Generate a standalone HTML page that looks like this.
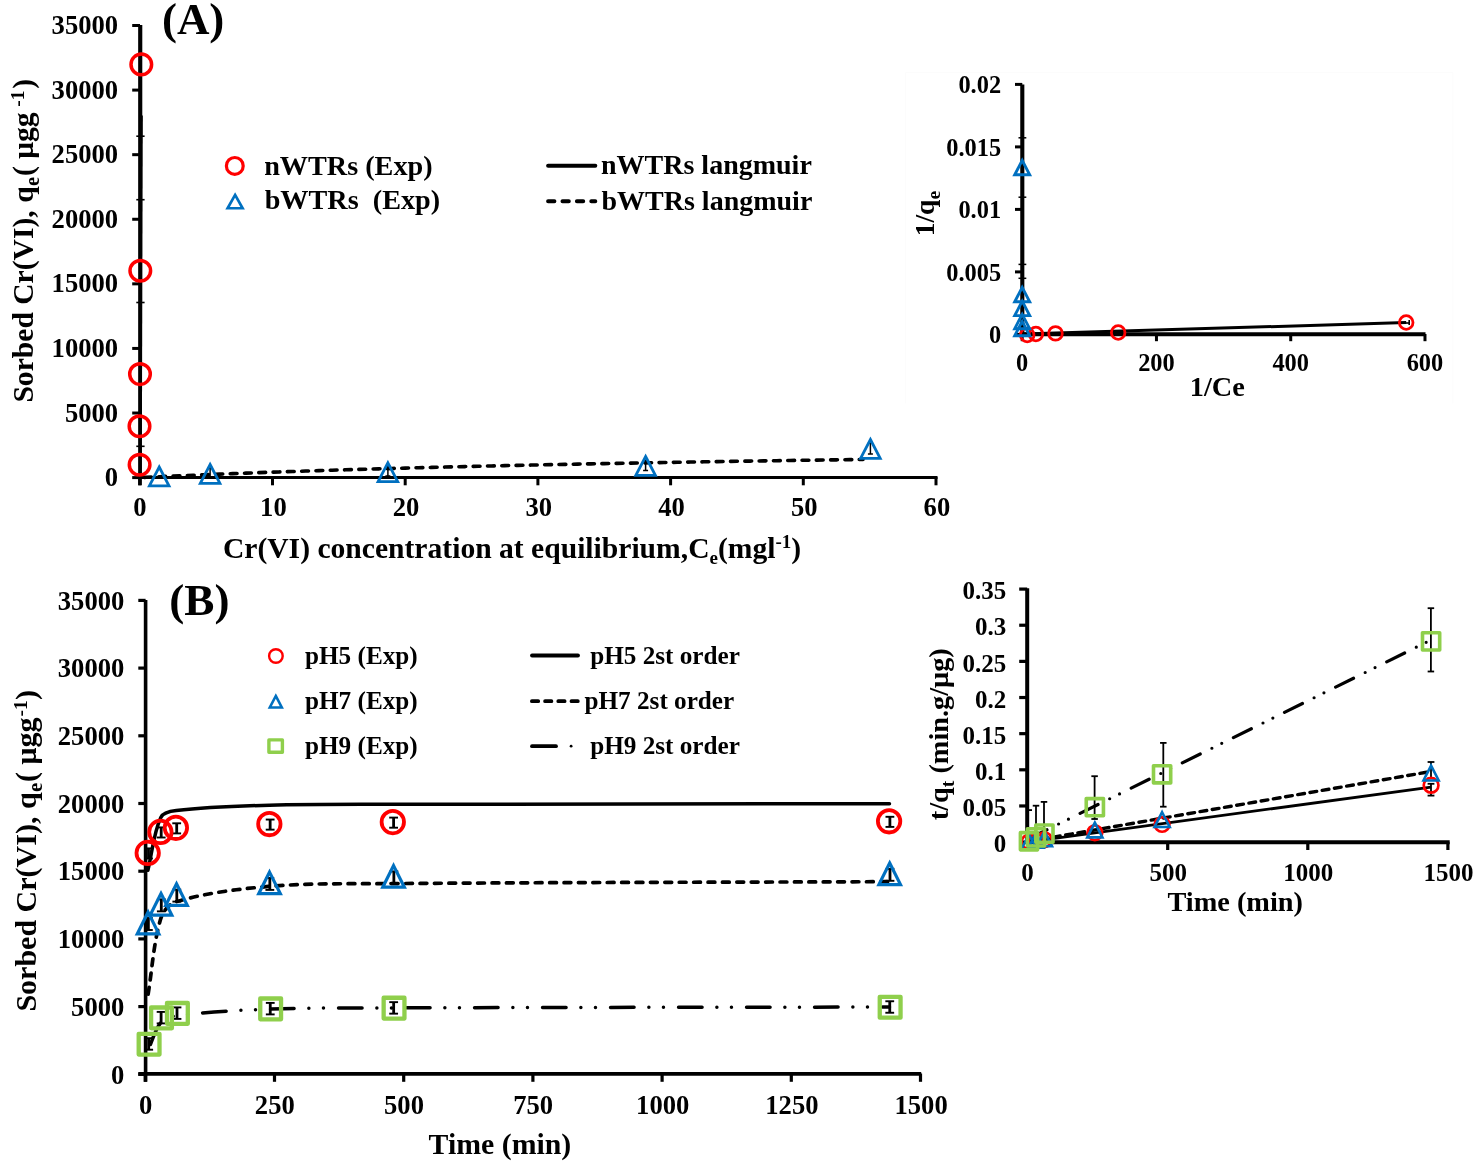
<!DOCTYPE html>
<html><head><meta charset="utf-8"><style>
html,body{margin:0;padding:0;background:#fff;}
svg{display:block;will-change:transform;}
text{font-family:"Liberation Serif", serif;font-weight:bold;fill:#000;}
</style></head><body>
<svg width="1484" height="1164" viewBox="0 0 1484 1164">
<rect width="1484" height="1164" fill="#fff"/>
<line x1="132.2" y1="477.6" x2="140" y2="477.6" stroke="#000" stroke-width="3" />
<text x="118.1" y="486.1" font-size="26.6" text-anchor="end" >0</text>
<line x1="132.2" y1="413.02" x2="140" y2="413.02" stroke="#000" stroke-width="3" />
<text x="118.1" y="421.52" font-size="26.6" text-anchor="end" >5000</text>
<line x1="132.2" y1="348.43" x2="140" y2="348.43" stroke="#000" stroke-width="3" />
<text x="118.1" y="356.93" font-size="26.6" text-anchor="end" >10000</text>
<line x1="132.2" y1="283.85" x2="140" y2="283.85" stroke="#000" stroke-width="3" />
<text x="118.1" y="292.35" font-size="26.6" text-anchor="end" >15000</text>
<line x1="132.2" y1="219.26" x2="140" y2="219.26" stroke="#000" stroke-width="3" />
<text x="118.1" y="227.76" font-size="26.6" text-anchor="end" >20000</text>
<line x1="132.2" y1="154.68" x2="140" y2="154.68" stroke="#000" stroke-width="3" />
<text x="118.1" y="163.18" font-size="26.6" text-anchor="end" >25000</text>
<line x1="132.2" y1="90.09" x2="140" y2="90.09" stroke="#000" stroke-width="3" />
<text x="118.1" y="98.59" font-size="26.6" text-anchor="end" >30000</text>
<line x1="132.2" y1="25.51" x2="140" y2="25.51" stroke="#000" stroke-width="3" />
<text x="118.1" y="34.01" font-size="26.6" text-anchor="end" >35000</text>
<line x1="139.8" y1="477" x2="139.8" y2="485.3" stroke="#000" stroke-width="3" />
<text x="139.8" y="515.8" font-size="26.6" text-anchor="middle" >0</text>
<line x1="272.5" y1="477" x2="272.5" y2="485.3" stroke="#000" stroke-width="3" />
<text x="273.4" y="515.8" font-size="26.6" text-anchor="middle" >10</text>
<line x1="405.2" y1="477" x2="405.2" y2="485.3" stroke="#000" stroke-width="3" />
<text x="406.1" y="515.8" font-size="26.6" text-anchor="middle" >20</text>
<line x1="537.9" y1="477" x2="537.9" y2="485.3" stroke="#000" stroke-width="3" />
<text x="538.8" y="515.8" font-size="26.6" text-anchor="middle" >30</text>
<line x1="670.6" y1="477" x2="670.6" y2="485.3" stroke="#000" stroke-width="3" />
<text x="671.5" y="515.8" font-size="26.6" text-anchor="middle" >40</text>
<line x1="803.3" y1="477" x2="803.3" y2="485.3" stroke="#000" stroke-width="3" />
<text x="804.2" y="515.8" font-size="26.6" text-anchor="middle" >50</text>
<line x1="936" y1="477" x2="936" y2="485.3" stroke="#000" stroke-width="3" />
<text x="936.9" y="515.8" font-size="26.6" text-anchor="middle" >60</text>
<line x1="140" y1="25" x2="140" y2="485.3" stroke="#000" stroke-width="3.7" />
<line x1="138.3" y1="477.6" x2="937.5" y2="477.6" stroke="#000" stroke-width="3" />
<line x1="141.2" y1="25" x2="141.2" y2="136.2" stroke="#000" stroke-width="2.2" />
<line x1="141.3" y1="115.5" x2="140.3" y2="477" stroke="#000" stroke-width="3" />
<path d="M139.8 477.6 L146.44 477.29 L153.07 476.98 L159.71 476.68 L166.34 476.38 L172.98 476.08 L179.61 475.8 L186.25 475.51 L192.88 475.23 L199.52 474.96 L206.15 474.68 L212.79 474.42 L219.42 474.15 L226.06 473.89 L232.69 473.64 L239.32 473.39 L245.96 473.14 L252.6 472.89 L259.23 472.65 L265.87 472.41 L272.5 472.18 L279.13 471.95 L285.77 471.72 L292.4 471.5 L299.04 471.28 L305.68 471.06 L312.31 470.84 L318.94 470.63 L325.58 470.42 L332.22 470.21 L338.85 470.01 L345.49 469.81 L352.12 469.61 L358.75 469.41 L365.39 469.22 L372.02 469.03 L378.66 468.84 L385.3 468.65 L391.93 468.47 L398.56 468.28 L405.2 468.1 L411.83 467.93 L418.47 467.75 L425.11 467.58 L431.74 467.41 L438.38 467.24 L445.01 467.07 L451.64 466.91 L458.28 466.74 L464.92 466.58 L471.55 466.42 L478.19 466.26 L484.82 466.11 L491.45 465.96 L498.09 465.8 L504.73 465.65 L511.36 465.5 L518 465.36 L524.63 465.21 L531.26 465.07 L537.9 464.93 L544.54 464.79 L551.17 464.65 L557.81 464.51 L564.44 464.37 L571.08 464.24 L577.71 464.1 L584.35 463.97 L590.98 463.84 L597.62 463.71 L604.25 463.59 L610.88 463.46 L617.52 463.33 L624.15 463.21 L630.79 463.09 L637.42 462.97 L644.06 462.85 L650.69 462.73 L657.33 462.61 L663.96 462.49 L670.6 462.38 L677.23 462.27 L683.87 462.15 L690.5 462.04 L697.14 461.93 L703.78 461.82 L710.41 461.71 L717.05 461.6 L723.68 461.5 L730.32 461.39 L736.95 461.29 L743.59 461.18 L750.22 461.08 L756.86 460.98 L763.49 460.88 L770.12 460.78 L776.76 460.68 L783.39 460.58 L790.03 460.48 L796.66 460.39 L803.3 460.29 L809.93 460.2 L816.57 460.1 L823.2 460.01 L829.84 459.92 L836.47 459.83 L843.11 459.74 L849.74 459.65 L856.38 459.56 L863.02 459.47" fill="none" stroke="#000" stroke-width="3.6" stroke-dasharray="6.8 7.5" stroke-dashoffset="-4.7" stroke-linecap="round"/>
<line x1="645.6" y1="460.5" x2="645.6" y2="470.5" stroke="#000" stroke-width="1.5" />
<line x1="643.1" y1="460.5" x2="648.1" y2="460.5" stroke="#000" stroke-width="1.5" />
<line x1="643.1" y1="470.5" x2="648.1" y2="470.5" stroke="#000" stroke-width="1.5" />
<line x1="870.4" y1="443" x2="870.4" y2="454" stroke="#000" stroke-width="1.5" />
<line x1="867.9" y1="443" x2="872.9" y2="443" stroke="#000" stroke-width="1.5" />
<line x1="867.9" y1="454" x2="872.9" y2="454" stroke="#000" stroke-width="1.5" />
<line x1="387.9" y1="466" x2="387.9" y2="476" stroke="#000" stroke-width="1.5" />
<line x1="385.4" y1="466" x2="390.4" y2="466" stroke="#000" stroke-width="1.5" />
<line x1="385.4" y1="476" x2="390.4" y2="476" stroke="#000" stroke-width="1.5" />
<line x1="210.1" y1="468" x2="210.1" y2="478" stroke="#000" stroke-width="1.5" />
<line x1="207.6" y1="468" x2="212.6" y2="468" stroke="#000" stroke-width="1.5" />
<line x1="207.6" y1="478" x2="212.6" y2="478" stroke="#000" stroke-width="1.5" />
<line x1="136.3" y1="136.2" x2="144.6" y2="136.2" stroke="#000" stroke-width="1.6" />
<line x1="136.3" y1="199.7" x2="144.6" y2="199.7" stroke="#000" stroke-width="1.6" />
<line x1="136.3" y1="302.5" x2="144.6" y2="302.5" stroke="#000" stroke-width="1.6" />
<line x1="136.3" y1="446.3" x2="144.6" y2="446.3" stroke="#000" stroke-width="1.6" />
<circle cx="141.3" cy="64.4" r="10.3" fill="none" stroke="#ff0000" stroke-width="3.5"/>
<circle cx="140.3" cy="270.7" r="10.3" fill="none" stroke="#ff0000" stroke-width="3.5"/>
<circle cx="140" cy="374.1" r="10.3" fill="none" stroke="#ff0000" stroke-width="3.5"/>
<circle cx="139.5" cy="426.3" r="10.3" fill="none" stroke="#ff0000" stroke-width="3.5"/>
<circle cx="139.6" cy="464.7" r="10.3" fill="none" stroke="#ff0000" stroke-width="3.5"/>
<path d="M159.2 467 L169 485.8 L149.4 485.8 Z" fill="none" stroke="#0070c0" stroke-width="2.8" stroke-linejoin="miter"/>
<path d="M210.1 464.5 L219.9 483.3 L200.3 483.3 Z" fill="none" stroke="#0070c0" stroke-width="2.8" stroke-linejoin="miter"/>
<path d="M387.9 462.8 L397.7 481.6 L378.1 481.6 Z" fill="none" stroke="#0070c0" stroke-width="2.8" stroke-linejoin="miter"/>
<path d="M645.6 456.5 L655.4 475.3 L635.8 475.3 Z" fill="none" stroke="#0070c0" stroke-width="2.8" stroke-linejoin="miter"/>
<path d="M870.4 439.5 L880.2 458.3 L860.6 458.3 Z" fill="none" stroke="#0070c0" stroke-width="2.8" stroke-linejoin="miter"/>
<circle cx="234.8" cy="165.9" r="8.4" fill="none" stroke="#ff0000" stroke-width="3.2"/>
<path d="M235.1 194.95 L242.6 208.25 L227.6 208.25 Z" fill="none" stroke="#0070c0" stroke-width="2.7" stroke-linejoin="miter"/>
<text x="264.2" y="174.5" font-size="28.2" text-anchor="start" >nWTRs (Exp)</text>
<text x="264.7" y="209.4" font-size="28.2" text-anchor="start" >bWTRs&#160; (Exp)</text>
<line x1="548.1" y1="165.7" x2="595.3" y2="165.7" stroke="#000" stroke-width="4" stroke-linecap="round"/>
<line x1="548.1" y1="201.3" x2="595.3" y2="201.3" stroke="#000" stroke-width="4" stroke-dasharray="6.3 8.1" stroke-linecap="round"/>
<text x="601" y="173.8" font-size="28" text-anchor="start" >nWTRs langmuir</text>
<text x="601.5" y="209.7" font-size="28" text-anchor="start" >bWTRs langmuir</text>
<text x="161.9" y="34.3" font-size="45" text-anchor="start" >(A)</text>
<text x="222.9" y="557.7" font-size="29.6" text-anchor="start" >Cr(VI) concentration at equilibrium,C<tspan font-size="19" dy="6">e</tspan><tspan dy="-6">(mgl</tspan><tspan font-size="19" dy="-10">-1</tspan><tspan dy="10">)</tspan></text>
<text transform="translate(33.4,402.6) rotate(-90)" font-size="29.6">Sorbed Cr(VI), q<tspan font-size="20.5" dy="6" dx="0.5">e</tspan><tspan dy="-6" dx="0.8">( μgg</tspan><tspan font-size="19.5" dy="-9" dx="0.8"> -1</tspan><tspan dy="9" dx="1.8">)</tspan></text>
<line x1="1015" y1="334.4" x2="1022.3" y2="334.4" stroke="#000" stroke-width="3" />
<text x="1001.1" y="343.1" font-size="24.4" text-anchor="end" >0</text>
<line x1="1015" y1="271.9" x2="1022.3" y2="271.9" stroke="#000" stroke-width="3" />
<text x="1001.1" y="280.6" font-size="24.4" text-anchor="end" >0.005</text>
<line x1="1015" y1="209.4" x2="1022.3" y2="209.4" stroke="#000" stroke-width="3" />
<text x="1001.1" y="218.1" font-size="24.4" text-anchor="end" >0.01</text>
<line x1="1015" y1="146.9" x2="1022.3" y2="146.9" stroke="#000" stroke-width="3" />
<text x="1001.1" y="155.6" font-size="24.4" text-anchor="end" >0.015</text>
<line x1="1015" y1="84.4" x2="1022.3" y2="84.4" stroke="#000" stroke-width="3" />
<text x="1001.1" y="93.1" font-size="24.4" text-anchor="end" >0.02</text>
<line x1="1022.2" y1="334" x2="1022.2" y2="341.2" stroke="#000" stroke-width="3" />
<text x="1022.2" y="370.8" font-size="24.4" text-anchor="middle" >0</text>
<line x1="1156.46" y1="334" x2="1156.46" y2="341.2" stroke="#000" stroke-width="3" />
<text x="1156.46" y="370.8" font-size="24.4" text-anchor="middle" >200</text>
<line x1="1290.72" y1="334" x2="1290.72" y2="341.2" stroke="#000" stroke-width="3" />
<text x="1290.72" y="370.8" font-size="24.4" text-anchor="middle" >400</text>
<line x1="1424.98" y1="334" x2="1424.98" y2="341.2" stroke="#000" stroke-width="3" />
<text x="1424.98" y="370.8" font-size="24.4" text-anchor="middle" >600</text>
<line x1="1022.3" y1="84.5" x2="1022.3" y2="336" stroke="#000" stroke-width="4.1" />
<line x1="1020.5" y1="334.3" x2="1425.5" y2="334.3" stroke="#000" stroke-width="4.1" />
<line x1="1022.2" y1="334" x2="1406.2" y2="322.6" stroke="#000" stroke-width="3" />
<text x="1189.8" y="395.6" font-size="28.3" text-anchor="start" >1/Ce</text>
<text transform="translate(933.8,236.3) rotate(-90)" font-size="27.5">1/q<tspan font-size="19.5" dy="6">e</tspan></text>
<line x1="1403.5" y1="323" x2="1409.2" y2="323" stroke="#000" stroke-width="1.6" />
<line x1="1050.5" y1="333.4" x2="1060.5" y2="333.4" stroke="#000" stroke-width="2.2" />
<line x1="1113.2" y1="332.5" x2="1123.2" y2="332.5" stroke="#000" stroke-width="2.6" />
<line x1="1409.2" y1="320" x2="1409.2" y2="325" stroke="#000" stroke-width="1.6" />
<line x1="1018.5" y1="137.8" x2="1026.3" y2="137.8" stroke="#000" stroke-width="1.5" />
<line x1="1018.5" y1="197.2" x2="1026.3" y2="197.2" stroke="#000" stroke-width="1.5" />
<line x1="1018.5" y1="264.4" x2="1026.3" y2="264.4" stroke="#000" stroke-width="1.5" />
<line x1="1018.5" y1="278.3" x2="1026.3" y2="278.3" stroke="#000" stroke-width="1.5" />
<circle cx="1027.2" cy="335" r="6.8" fill="none" stroke="#ff0000" stroke-width="2.8"/>
<circle cx="1035.9" cy="334" r="6.8" fill="none" stroke="#ff0000" stroke-width="2.8"/>
<circle cx="1055.5" cy="333.4" r="6.8" fill="none" stroke="#ff0000" stroke-width="2.8"/>
<circle cx="1118.2" cy="332.5" r="6.8" fill="none" stroke="#ff0000" stroke-width="2.8"/>
<circle cx="1406.2" cy="322.5" r="6.8" fill="none" stroke="#ff0000" stroke-width="2.8"/>
<path d="M1022.2 160.4 L1029.7 174.8 L1014.7 174.8 Z" fill="none" stroke="#0070c0" stroke-width="2.9" stroke-linejoin="miter"/>
<path d="M1022.2 287.4 L1029.7 301.8 L1014.7 301.8 Z" fill="none" stroke="#0070c0" stroke-width="2.9" stroke-linejoin="miter"/>
<path d="M1022.2 301.2 L1029.7 315.6 L1014.7 315.6 Z" fill="none" stroke="#0070c0" stroke-width="2.9" stroke-linejoin="miter"/>
<path d="M1022.2 314.3 L1029.7 328.7 L1014.7 328.7 Z" fill="none" stroke="#0070c0" stroke-width="2.9" stroke-linejoin="miter"/>
<path d="M1022.2 321.3 L1029.7 335.7 L1014.7 335.7 Z" fill="none" stroke="#0070c0" stroke-width="2.9" stroke-linejoin="miter"/>
<line x1="138.3" y1="1074.3" x2="145.6" y2="1074.3" stroke="#000" stroke-width="3.2" />
<text x="124.3" y="1083.5" font-size="26.6" text-anchor="end" >0</text>
<line x1="138.3" y1="1006.6" x2="145.6" y2="1006.6" stroke="#000" stroke-width="3.2" />
<text x="124.3" y="1015.8" font-size="26.6" text-anchor="end" >5000</text>
<line x1="138.3" y1="938.9" x2="145.6" y2="938.9" stroke="#000" stroke-width="3.2" />
<text x="124.3" y="948.1" font-size="26.6" text-anchor="end" >10000</text>
<line x1="138.3" y1="871.2" x2="145.6" y2="871.2" stroke="#000" stroke-width="3.2" />
<text x="124.3" y="880.4" font-size="26.6" text-anchor="end" >15000</text>
<line x1="138.3" y1="803.5" x2="145.6" y2="803.5" stroke="#000" stroke-width="3.2" />
<text x="124.3" y="812.7" font-size="26.6" text-anchor="end" >20000</text>
<line x1="138.3" y1="735.8" x2="145.6" y2="735.8" stroke="#000" stroke-width="3.2" />
<text x="124.3" y="745" font-size="26.6" text-anchor="end" >25000</text>
<line x1="138.3" y1="668.1" x2="145.6" y2="668.1" stroke="#000" stroke-width="3.2" />
<text x="124.3" y="677.3" font-size="26.6" text-anchor="end" >30000</text>
<line x1="138.3" y1="600.4" x2="145.6" y2="600.4" stroke="#000" stroke-width="3.2" />
<text x="124.3" y="609.6" font-size="26.6" text-anchor="end" >35000</text>
<line x1="145.3" y1="1073.5" x2="145.3" y2="1081.8" stroke="#000" stroke-width="3.2" />
<text x="145.6" y="1114" font-size="26.6" text-anchor="middle" >0</text>
<line x1="274.5" y1="1073.5" x2="274.5" y2="1081.8" stroke="#000" stroke-width="3.2" />
<text x="274.8" y="1114" font-size="26.6" text-anchor="middle" >250</text>
<line x1="403.7" y1="1073.5" x2="403.7" y2="1081.8" stroke="#000" stroke-width="3.2" />
<text x="404" y="1114" font-size="26.6" text-anchor="middle" >500</text>
<line x1="532.9" y1="1073.5" x2="532.9" y2="1081.8" stroke="#000" stroke-width="3.2" />
<text x="533.2" y="1114" font-size="26.6" text-anchor="middle" >750</text>
<line x1="662.1" y1="1073.5" x2="662.1" y2="1081.8" stroke="#000" stroke-width="3.2" />
<text x="662.7" y="1114" font-size="26.6" text-anchor="middle" >1000</text>
<line x1="791.3" y1="1073.5" x2="791.3" y2="1081.8" stroke="#000" stroke-width="3.2" />
<text x="791.9" y="1114" font-size="26.6" text-anchor="middle" >1250</text>
<line x1="920.5" y1="1073.5" x2="920.5" y2="1081.8" stroke="#000" stroke-width="3.2" />
<text x="921.1" y="1114" font-size="26.6" text-anchor="middle" >1500</text>
<line x1="145.6" y1="600" x2="145.6" y2="1081.8" stroke="#000" stroke-width="3.6" />
<line x1="138.3" y1="1073.9" x2="921.2" y2="1073.9" stroke="#000" stroke-width="3.6" />
<path d="M147.88 870.31 C152.19 852.68 153.58 832.6 160.8 817.42 C163.05 812.69 170.74 811.2 176.31 810.58 C206.92 807.13 238.29 806.1 269.33 805.2 C310.65 804.01 352.02 804.39 393.36 804.29 C558.74 803.88 724.12 803.88 889.49 803.67" fill="none" stroke="#000" stroke-width="3.5" stroke-linecap="round"/>
<path d="M147.88 995.48 C152.19 969.82 153.48 942.69 160.8 918.5 C162.95 911.4 169.24 903.73 176.31 901.64 C205.41 893.02 238.09 888.98 269.33 886.38 C310.45 882.96 352.01 883.89 393.36 883.57 C558.73 882.31 724.12 882.29 889.49 881.65" fill="none" stroke="#000" stroke-width="3.7" stroke-dasharray="6.8 7.6" stroke-dashoffset="-1.4" stroke-linecap="round"/>
<path d="M147.88 1050.7 C152.19 1041.36 154.69 1030.2 160.8 1022.68 C164.17 1018.54 170.73 1016.42 176.31 1015.72 C206.91 1011.91 238.28 1010.26 269.33 1009.14 C310.63 1007.65 352.02 1008.03 393.36 1007.89 C558.74 1007.33 724.12 1007.32 889.49 1007.04" fill="none" stroke="#000" stroke-width="3.5" stroke-dasharray="23.5 14.8 0 14.6 0 15.1" stroke-dashoffset="-6.8" stroke-linecap="round"/>
<line x1="148.5" y1="848.4" x2="148.5" y2="858.5" stroke="#000" stroke-width="2.8" />
<line x1="144.1" y1="848.4" x2="152.9" y2="848.4" stroke="#000" stroke-width="1.9" />
<line x1="144.1" y1="858.5" x2="152.9" y2="858.5" stroke="#000" stroke-width="1.9" />
<line x1="161.2" y1="827.4" x2="161.2" y2="837.5" stroke="#000" stroke-width="2.8" />
<line x1="156.8" y1="827.4" x2="165.6" y2="827.4" stroke="#000" stroke-width="1.9" />
<line x1="156.8" y1="837.5" x2="165.6" y2="837.5" stroke="#000" stroke-width="1.9" />
<line x1="176.7" y1="823.3" x2="176.7" y2="833.4" stroke="#000" stroke-width="2.8" />
<line x1="172.3" y1="823.3" x2="181.1" y2="823.3" stroke="#000" stroke-width="1.9" />
<line x1="172.3" y1="833.4" x2="181.1" y2="833.4" stroke="#000" stroke-width="1.9" />
<line x1="270.15" y1="819.55" x2="270.15" y2="829.65" stroke="#000" stroke-width="2.8" />
<line x1="265.75" y1="819.55" x2="274.55" y2="819.55" stroke="#000" stroke-width="1.9" />
<line x1="265.75" y1="829.65" x2="274.55" y2="829.65" stroke="#000" stroke-width="1.9" />
<line x1="393.6" y1="817.6" x2="393.6" y2="827.7" stroke="#000" stroke-width="2.8" />
<line x1="389.2" y1="817.6" x2="398" y2="817.6" stroke="#000" stroke-width="1.9" />
<line x1="389.2" y1="827.7" x2="398" y2="827.7" stroke="#000" stroke-width="1.9" />
<line x1="889.9" y1="816.8" x2="889.9" y2="826.9" stroke="#000" stroke-width="2.8" />
<line x1="885.5" y1="816.8" x2="894.3" y2="816.8" stroke="#000" stroke-width="1.9" />
<line x1="885.5" y1="826.9" x2="894.3" y2="826.9" stroke="#000" stroke-width="1.9" />
<line x1="148.38" y1="918" x2="148.38" y2="930" stroke="#000" stroke-width="2.8" />
<line x1="143.98" y1="918" x2="152.78" y2="918" stroke="#000" stroke-width="1.9" />
<line x1="143.98" y1="930" x2="152.78" y2="930" stroke="#000" stroke-width="1.9" />
<line x1="161.3" y1="899.35" x2="161.3" y2="911.35" stroke="#000" stroke-width="2.8" />
<line x1="156.9" y1="899.35" x2="165.7" y2="899.35" stroke="#000" stroke-width="1.9" />
<line x1="156.9" y1="911.35" x2="165.7" y2="911.35" stroke="#000" stroke-width="1.9" />
<line x1="176.81" y1="889.6" x2="176.81" y2="901.6" stroke="#000" stroke-width="2.8" />
<line x1="172.41" y1="889.6" x2="181.21" y2="889.6" stroke="#000" stroke-width="1.9" />
<line x1="172.41" y1="901.6" x2="181.21" y2="901.6" stroke="#000" stroke-width="1.9" />
<line x1="269.83" y1="877.9" x2="269.83" y2="889.9" stroke="#000" stroke-width="2.8" />
<line x1="265.43" y1="877.9" x2="274.23" y2="877.9" stroke="#000" stroke-width="1.9" />
<line x1="265.43" y1="889.9" x2="274.23" y2="889.9" stroke="#000" stroke-width="1.9" />
<line x1="393.86" y1="871.4" x2="393.86" y2="883.4" stroke="#000" stroke-width="2.8" />
<line x1="389.46" y1="871.4" x2="398.26" y2="871.4" stroke="#000" stroke-width="1.9" />
<line x1="389.46" y1="883.4" x2="398.26" y2="883.4" stroke="#000" stroke-width="1.9" />
<line x1="889.99" y1="868.8" x2="889.99" y2="880.8" stroke="#000" stroke-width="2.8" />
<line x1="885.59" y1="868.8" x2="894.39" y2="868.8" stroke="#000" stroke-width="1.9" />
<line x1="885.59" y1="880.8" x2="894.39" y2="880.8" stroke="#000" stroke-width="1.9" />
<line x1="148.7" y1="1038.2" x2="148.7" y2="1049.7" stroke="#000" stroke-width="2.8" />
<line x1="144.3" y1="1038.2" x2="153.1" y2="1038.2" stroke="#000" stroke-width="1.9" />
<line x1="144.3" y1="1049.7" x2="153.1" y2="1049.7" stroke="#000" stroke-width="1.9" />
<line x1="161.1" y1="1011.9" x2="161.1" y2="1023.4" stroke="#000" stroke-width="2.8" />
<line x1="156.7" y1="1011.9" x2="165.5" y2="1011.9" stroke="#000" stroke-width="1.9" />
<line x1="156.7" y1="1023.4" x2="165.5" y2="1023.4" stroke="#000" stroke-width="1.9" />
<line x1="177" y1="1007.4" x2="177" y2="1018.9" stroke="#000" stroke-width="2.8" />
<line x1="172.6" y1="1007.4" x2="181.4" y2="1007.4" stroke="#000" stroke-width="1.9" />
<line x1="172.6" y1="1018.9" x2="181.4" y2="1018.9" stroke="#000" stroke-width="1.9" />
<line x1="270.25" y1="1002.9" x2="270.25" y2="1014.4" stroke="#000" stroke-width="2.8" />
<line x1="265.85" y1="1002.9" x2="274.65" y2="1002.9" stroke="#000" stroke-width="1.9" />
<line x1="265.85" y1="1014.4" x2="274.65" y2="1014.4" stroke="#000" stroke-width="1.9" />
<line x1="393.65" y1="1002.15" x2="393.65" y2="1013.65" stroke="#000" stroke-width="2.8" />
<line x1="389.25" y1="1002.15" x2="398.05" y2="1002.15" stroke="#000" stroke-width="1.9" />
<line x1="389.25" y1="1013.65" x2="398.05" y2="1013.65" stroke="#000" stroke-width="1.9" />
<line x1="889.75" y1="1001.25" x2="889.75" y2="1012.75" stroke="#000" stroke-width="2.8" />
<line x1="885.35" y1="1001.25" x2="894.15" y2="1001.25" stroke="#000" stroke-width="1.9" />
<line x1="885.35" y1="1012.75" x2="894.15" y2="1012.75" stroke="#000" stroke-width="1.9" />
<circle cx="147.7" cy="852.9" r="11.2" fill="none" stroke="#ff0000" stroke-width="3.8"/>
<circle cx="160.4" cy="831.9" r="11.2" fill="none" stroke="#ff0000" stroke-width="3.8"/>
<circle cx="175.9" cy="827.8" r="11.2" fill="none" stroke="#ff0000" stroke-width="3.8"/>
<circle cx="269.35" cy="824.05" r="11.2" fill="none" stroke="#ff0000" stroke-width="3.8"/>
<circle cx="392.8" cy="822.1" r="11.2" fill="none" stroke="#ff0000" stroke-width="3.8"/>
<circle cx="889.1" cy="821.3" r="11.2" fill="none" stroke="#ff0000" stroke-width="3.8"/>
<path d="M148.08 912.2 L158.88 933.8 L137.28 933.8 Z" fill="none" stroke="#0070c0" stroke-width="3.2" stroke-linejoin="miter"/>
<path d="M161 893.55 L171.8 915.15 L150.2 915.15 Z" fill="none" stroke="#0070c0" stroke-width="3.2" stroke-linejoin="miter"/>
<path d="M176.51 883.8 L187.31 905.4 L165.71 905.4 Z" fill="none" stroke="#0070c0" stroke-width="3.2" stroke-linejoin="miter"/>
<path d="M269.53 872.1 L280.33 893.7 L258.73 893.7 Z" fill="none" stroke="#0070c0" stroke-width="3.2" stroke-linejoin="miter"/>
<path d="M393.56 865.6 L404.36 887.2 L382.76 887.2 Z" fill="none" stroke="#0070c0" stroke-width="3.2" stroke-linejoin="miter"/>
<path d="M889.69 863 L900.49 884.6 L878.89 884.6 Z" fill="none" stroke="#0070c0" stroke-width="3.2" stroke-linejoin="miter"/>
<rect x="138.7" y="1033.8" width="20.8" height="20.8" fill="none" stroke="#8fcf4c" stroke-width="4.3" stroke-linejoin="round"/>
<rect x="151.1" y="1007.5" width="20.8" height="20.8" fill="none" stroke="#8fcf4c" stroke-width="4.3" stroke-linejoin="round"/>
<rect x="167" y="1003" width="20.8" height="20.8" fill="none" stroke="#8fcf4c" stroke-width="4.3" stroke-linejoin="round"/>
<rect x="260.25" y="998.5" width="20.8" height="20.8" fill="none" stroke="#8fcf4c" stroke-width="4.3" stroke-linejoin="round"/>
<rect x="383.65" y="997.75" width="20.8" height="20.8" fill="none" stroke="#8fcf4c" stroke-width="4.3" stroke-linejoin="round"/>
<rect x="879.75" y="996.85" width="20.8" height="20.8" fill="none" stroke="#8fcf4c" stroke-width="4.3" stroke-linejoin="round"/>
<circle cx="275.9" cy="656" r="6.8" fill="none" stroke="#ff0000" stroke-width="2.4"/>
<path d="M275.8 695.95 L281.8 707.45 L269.8 707.45 Z" fill="none" stroke="#0070c0" stroke-width="2.6" stroke-linejoin="miter"/>
<rect x="268.9" y="739.9" width="13.5" height="12.4" fill="none" stroke="#8fcf4c" stroke-width="3.4" stroke-linejoin="round"/>
<text x="305" y="664.1" font-size="25.2" text-anchor="start" >pH5 (Exp)</text>
<text x="305" y="709.3" font-size="25.2" text-anchor="start" >pH7 (Exp)</text>
<text x="305" y="754" font-size="25.2" text-anchor="start" >pH9 (Exp)</text>
<line x1="532" y1="655.5" x2="578" y2="655.5" stroke="#000" stroke-width="3.8" stroke-linecap="round"/>
<line x1="531.9" y1="701.2" x2="578" y2="701.2" stroke="#000" stroke-width="3.8" stroke-dasharray="6.3 6.9" stroke-linecap="round"/>
<line x1="532" y1="746.2" x2="556" y2="746.2" stroke="#000" stroke-width="3.8" stroke-linecap="round"/>
<line x1="571.1" y1="746.2" x2="571.1" y2="746.2" stroke="#000" stroke-width="2.8" stroke-linecap="round"/>
<text x="590.2" y="664" font-size="25.2" text-anchor="start" >pH5 2st order</text>
<text x="584.5" y="709" font-size="25.2" text-anchor="start" >pH7 2st order</text>
<text x="590.2" y="753.9" font-size="25.2" text-anchor="start" >pH9 2st order</text>
<text x="169.2" y="614.6" font-size="45.2" text-anchor="start" >(B)</text>
<text x="428.6" y="1154.3" font-size="29.8" text-anchor="start" >Time (min)</text>
<text transform="translate(36,1011.6) rotate(-90)" font-size="30">Sorbed Cr(VI), q<tspan font-size="20.8" dy="6" dx="0.5">e</tspan><tspan dy="-6" dx="0.8">( μgg</tspan><tspan font-size="19.8" dy="-9" dx="0.8">-1</tspan><tspan dy="9">)</tspan></text>
<line x1="1019.2" y1="842.1" x2="1027.2" y2="842.1" stroke="#000" stroke-width="3.2" />
<text x="1006.3" y="852.3" font-size="25" text-anchor="end" >0</text>
<line x1="1019.2" y1="805.96" x2="1027.2" y2="805.96" stroke="#000" stroke-width="3.2" />
<text x="1006.3" y="816.16" font-size="25" text-anchor="end" >0.05</text>
<line x1="1019.2" y1="769.81" x2="1027.2" y2="769.81" stroke="#000" stroke-width="3.2" />
<text x="1006.3" y="780.01" font-size="25" text-anchor="end" >0.1</text>
<line x1="1019.2" y1="733.66" x2="1027.2" y2="733.66" stroke="#000" stroke-width="3.2" />
<text x="1006.3" y="743.87" font-size="25" text-anchor="end" >0.15</text>
<line x1="1019.2" y1="697.52" x2="1027.2" y2="697.52" stroke="#000" stroke-width="3.2" />
<text x="1006.3" y="707.72" font-size="25" text-anchor="end" >0.2</text>
<line x1="1019.2" y1="661.38" x2="1027.2" y2="661.38" stroke="#000" stroke-width="3.2" />
<text x="1006.3" y="671.58" font-size="25" text-anchor="end" >0.25</text>
<line x1="1019.2" y1="625.23" x2="1027.2" y2="625.23" stroke="#000" stroke-width="3.2" />
<text x="1006.3" y="635.43" font-size="25" text-anchor="end" >0.3</text>
<line x1="1019.2" y1="589.09" x2="1027.2" y2="589.09" stroke="#000" stroke-width="3.2" />
<text x="1006.3" y="599.29" font-size="25" text-anchor="end" >0.35</text>
<line x1="1027.6" y1="842" x2="1027.6" y2="850" stroke="#000" stroke-width="3.2" />
<text x="1027.6" y="880.8" font-size="25" text-anchor="middle" >0</text>
<line x1="1167.7" y1="842" x2="1167.7" y2="850" stroke="#000" stroke-width="3.2" />
<text x="1168.2" y="880.8" font-size="25" text-anchor="middle" >500</text>
<line x1="1307.8" y1="842" x2="1307.8" y2="850" stroke="#000" stroke-width="3.2" />
<text x="1308.3" y="880.8" font-size="25" text-anchor="middle" >1000</text>
<line x1="1447.9" y1="842" x2="1447.9" y2="850" stroke="#000" stroke-width="3.2" />
<text x="1448.4" y="880.8" font-size="25" text-anchor="middle" >1500</text>
<line x1="1027.2" y1="588.2" x2="1027.2" y2="844" stroke="#000" stroke-width="4" />
<line x1="1025.5" y1="842.2" x2="1449.7" y2="842.2" stroke="#000" stroke-width="4" />
<line x1="1430.9" y1="608.2" x2="1430.9" y2="671.5" stroke="#000" stroke-width="1.8" />
<line x1="1427.65" y1="608.2" x2="1434.15" y2="608.2" stroke="#000" stroke-width="1.8" />
<line x1="1427.65" y1="671.5" x2="1434.15" y2="671.5" stroke="#000" stroke-width="1.8" />
<line x1="1163.3" y1="742.9" x2="1163.3" y2="806.7" stroke="#000" stroke-width="1.8" />
<line x1="1160.05" y1="742.9" x2="1166.55" y2="742.9" stroke="#000" stroke-width="1.8" />
<line x1="1160.05" y1="806.7" x2="1166.55" y2="806.7" stroke="#000" stroke-width="1.8" />
<line x1="1094.6" y1="776.2" x2="1094.6" y2="819" stroke="#000" stroke-width="1.8" />
<line x1="1091.35" y1="776.2" x2="1097.85" y2="776.2" stroke="#000" stroke-width="1.8" />
<line x1="1091.35" y1="819" x2="1097.85" y2="819" stroke="#000" stroke-width="1.8" />
<line x1="1036" y1="805.7" x2="1036" y2="842" stroke="#000" stroke-width="1.8" />
<line x1="1032.75" y1="805.7" x2="1039.25" y2="805.7" stroke="#000" stroke-width="1.8" />
<line x1="1032.75" y1="842" x2="1039.25" y2="842" stroke="#000" stroke-width="1.8" />
<line x1="1044" y1="801.9" x2="1044" y2="842" stroke="#000" stroke-width="1.8" />
<line x1="1040.75" y1="801.9" x2="1047.25" y2="801.9" stroke="#000" stroke-width="1.8" />
<line x1="1040.75" y1="842" x2="1047.25" y2="842" stroke="#000" stroke-width="1.8" />
<line x1="1027" y1="810.1" x2="1032" y2="810.1" stroke="#000" stroke-width="1.8" />
<line x1="1431" y1="762" x2="1431" y2="778.2" stroke="#000" stroke-width="1.8" />
<line x1="1427.6" y1="762" x2="1434.4" y2="762" stroke="#000" stroke-width="1.8" />
<line x1="1427.6" y1="778.2" x2="1434.4" y2="778.2" stroke="#000" stroke-width="1.8" />
<line x1="1431" y1="783.8" x2="1431" y2="795.6" stroke="#000" stroke-width="1.8" />
<line x1="1427.6" y1="783.8" x2="1434.4" y2="783.8" stroke="#000" stroke-width="1.8" />
<line x1="1427.6" y1="795.6" x2="1434.4" y2="795.6" stroke="#000" stroke-width="1.8" />
<line x1="1029" y1="841.81" x2="1431.09" y2="787.02" stroke="#000" stroke-width="2.8" />
<line x1="1029" y1="841.38" x2="1431.09" y2="771.47" stroke="#000" stroke-width="3.4" stroke-dasharray="6.8 5.6" stroke-linecap="round"/>
<line x1="1029" y1="838.63" x2="1431.09" y2="639.9" stroke="#000" stroke-width="3.2" stroke-dasharray="20 13 0 11 0 13" stroke-linecap="round"/>
<path d="M905.5 403.5 V72.5 H1452.9 V403.5" fill="none" stroke="#fcfcfc" stroke-width="1"/>
<circle cx="1029" cy="841.88" r="7.35" fill="none" stroke="#ff0000" stroke-width="2.7"/>
<circle cx="1036.01" cy="840.87" r="7.35" fill="none" stroke="#ff0000" stroke-width="2.7"/>
<circle cx="1044.41" cy="839.71" r="7.35" fill="none" stroke="#ff0000" stroke-width="2.7"/>
<circle cx="1094.85" cy="832.7" r="7.35" fill="none" stroke="#ff0000" stroke-width="2.7"/>
<circle cx="1162.1" cy="824.39" r="7.35" fill="none" stroke="#ff0000" stroke-width="2.7"/>
<circle cx="1431.09" cy="785.28" r="7.35" fill="none" stroke="#ff0000" stroke-width="2.7"/>
<path d="M1029 834.41 L1036.6 849.21 L1021.4 849.21 Z" fill="none" stroke="#0070c0" stroke-width="2.6" stroke-linejoin="miter"/>
<path d="M1036.01 832.97 L1043.61 847.77 L1028.41 847.77 Z" fill="none" stroke="#0070c0" stroke-width="2.6" stroke-linejoin="miter"/>
<path d="M1044.41 831.45 L1052.01 846.25 L1036.81 846.25 Z" fill="none" stroke="#0070c0" stroke-width="2.6" stroke-linejoin="miter"/>
<path d="M1094.85 822.56 L1102.45 837.36 L1087.25 837.36 Z" fill="none" stroke="#0070c0" stroke-width="2.6" stroke-linejoin="miter"/>
<path d="M1162.1 812.22 L1169.7 827.02 L1154.5 827.02 Z" fill="none" stroke="#0070c0" stroke-width="2.6" stroke-linejoin="miter"/>
<path d="M1431.09 765.66 L1438.69 780.46 L1423.49 780.46 Z" fill="none" stroke="#0070c0" stroke-width="2.6" stroke-linejoin="miter"/>
<rect x="1020.4" y="832.63" width="17.2" height="17.2" fill="none" stroke="#8fcf4c" stroke-width="3.6" stroke-linejoin="round"/>
<rect x="1027.41" y="828.73" width="17.2" height="17.2" fill="none" stroke="#8fcf4c" stroke-width="3.6" stroke-linejoin="round"/>
<rect x="1035.81" y="825.04" width="17.2" height="17.2" fill="none" stroke="#8fcf4c" stroke-width="3.6" stroke-linejoin="round"/>
<rect x="1086.25" y="798.58" width="17.2" height="17.2" fill="none" stroke="#8fcf4c" stroke-width="3.6" stroke-linejoin="round"/>
<rect x="1153.5" y="765.69" width="17.2" height="17.2" fill="none" stroke="#8fcf4c" stroke-width="3.6" stroke-linejoin="round"/>
<rect x="1422.49" y="632.75" width="17.2" height="17.2" fill="none" stroke="#8fcf4c" stroke-width="3.6" stroke-linejoin="round"/>
<text x="1167.5" y="910.7" font-size="28.3" text-anchor="start" >Time (min)</text>
<text transform="translate(948.4,820.2) rotate(-90)" font-size="28.3">t/q<tspan font-size="19.5" dy="5.5">t</tspan><tspan dy="-5.5"> (min.g/μg)</tspan></text>
</svg>
</body></html>
